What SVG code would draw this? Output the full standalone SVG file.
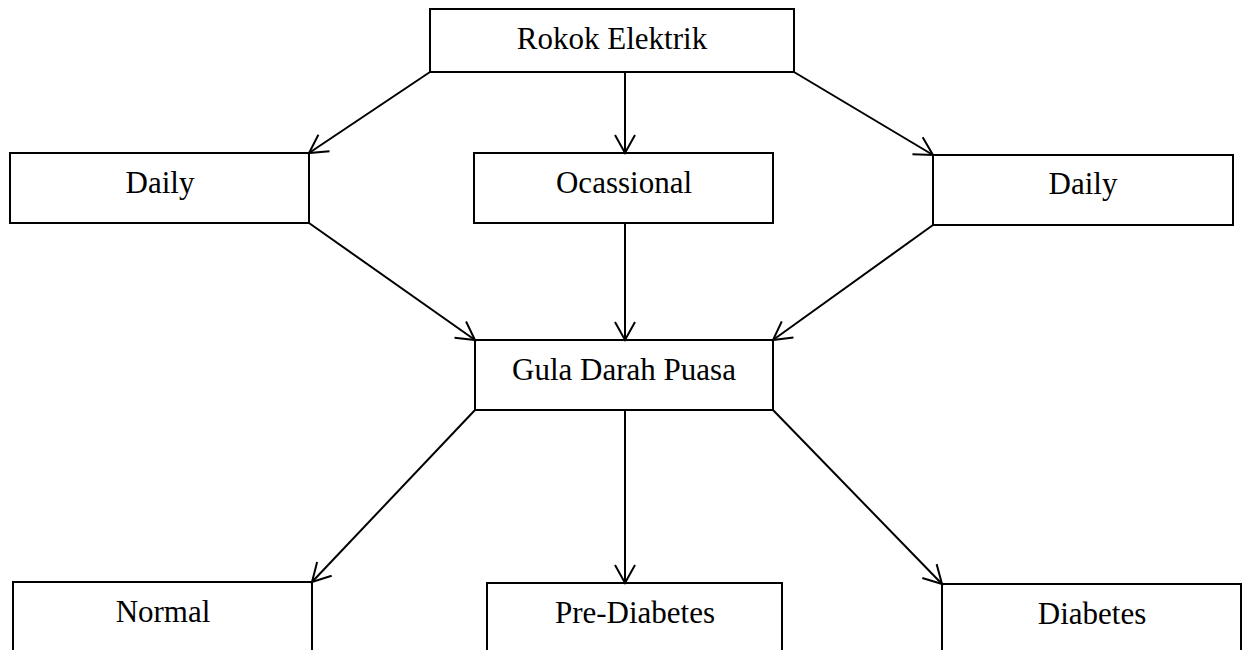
<svg xmlns="http://www.w3.org/2000/svg" width="1242" height="650" viewBox="0 0 1242 650">
<style>
.box{fill:#fff;stroke:#000;stroke-width:2}
.lbl{font-family:"Liberation Serif","Times New Roman",serif;font-size:31px;fill:#000;text-anchor:middle}
.con line{stroke:#000;stroke-width:2;fill:none;marker-end:url(#arr)}
</style>
<defs>
<marker id="arr" markerUnits="userSpaceOnUse" markerWidth="24" markerHeight="24" viewBox="-20 -12 22 24" refX="0" refY="0" orient="auto">
<path d="M-18,-10 L0,0 L-18,10" fill="none" stroke="#000" stroke-width="2"/>
</marker>
</defs>
<rect width="1242" height="650" fill="#fff"/>
<g id="n-rokok"><rect class="box" x="430" y="9" width="364" height="63"/><text class="lbl" x="612" y="49">Rokok Elektrik</text></g>
<g id="n-daily-left"><rect class="box" x="10" y="153" width="299" height="70"/><text class="lbl" x="160" y="193">Daily</text></g>
<g id="n-ocassional"><rect class="box" x="474" y="153" width="299" height="70"/><text class="lbl" x="624" y="193">Ocassional</text></g>
<g id="n-daily-right"><rect class="box" x="933" y="155" width="300" height="70"/><text class="lbl" x="1083" y="194">Daily</text></g>
<g id="n-gula"><rect class="box" x="475" y="340" width="298" height="70"/><text class="lbl" x="624" y="380">Gula Darah Puasa</text></g>
<g id="n-normal"><rect class="box" x="13" y="582" width="299" height="80"/><text class="lbl" x="163" y="622">Normal</text></g>
<g id="n-prediabetes"><rect class="box" x="487" y="583" width="295" height="80"/><text class="lbl" x="635" y="623">Pre-Diabetes</text></g>
<g id="n-diabetes"><rect class="box" x="942" y="584" width="299" height="80"/><text class="lbl" x="1092" y="624">Diabetes</text></g>
<g id="connectors" class="con">
<line x1="430" y1="72" x2="309" y2="153"/>
<line x1="625" y1="72" x2="625" y2="153"/>
<line x1="794" y1="72" x2="933" y2="155"/>
<line x1="309" y1="223" x2="475" y2="340"/>
<line x1="625" y1="223" x2="625" y2="340"/>
<line x1="933" y1="225" x2="773" y2="340"/>
<line x1="475" y1="410" x2="312" y2="582"/>
<line x1="625" y1="410" x2="625" y2="583"/>
<line x1="773" y1="410" x2="942" y2="584"/>
</g>
</svg>
